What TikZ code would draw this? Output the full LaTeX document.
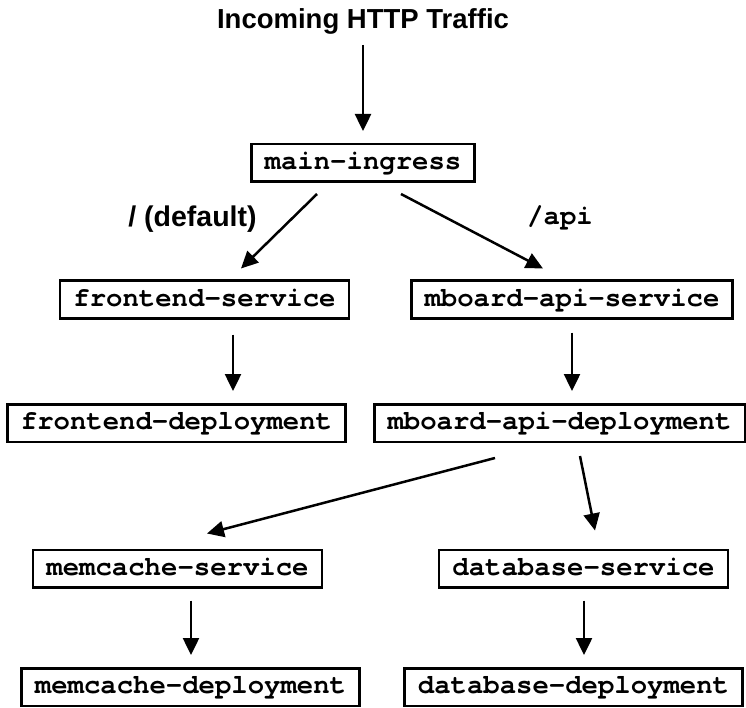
\documentclass[tikz,border=0pt]{standalone}
\usepackage{fontspec}
\setmainfont{Liberation Sans}
\setmonofont{texgyrecursor}[Extension=.otf,UprightFont=*-regular,BoldFont=*-bold]
\usetikzlibrary{arrows.meta,calc}

\tikzset{
  res/.style={draw,line width=2.5pt,inner xsep=13.25pt,inner ysep=6.25pt,
    text height=19pt,text depth=6pt,
    font=\fontsize{27.3}{30}\selectfont\ttfamily\bfseries},
  headline/.style={anchor=base,inner sep=0pt,font=\fontsize{27.5}{30}\selectfont\bfseries},
  route/.style={anchor=base,inner sep=0pt,font=\fontsize{28.5}{30}\selectfont\bfseries},
}

\begin{document}
\begin{tikzpicture}[x=1pt,y=-1pt,>={Triangle[length=17pt,width=16pt]},line width=2.5pt]
            \useasboundingbox (0,0) rectangle (746,708);

            \node[headline] (traffic) at (363,29) {Incoming HTTP Traffic};

            \node[res] (ingress) at (363,163) {main-ingress};

            \node[res] (front) at (204.5,299.5) {frontend-service};
            \node[res] (apisvc) at (572,299.5) {mboard-api-service};

            \node[res] (fdep) at (176.5,423) {frontend-deployment};
            \node[res] (adep) at (559.5,423) {mboard-api-deployment};

            \node[res] (memsvc) at (177.5,568.5) {memcache-service};
            \node[res] (dbsvc) at (583.5,568.5) {database-service};

            \node[res] (memdep) at (190.5,687) {memcache-deployment};
            \node[res] (dbdep) at (573.5,687) {database-deployment};

            \node[route] (default) at (192.5,227) {/ (default)};
            \node[route,font=\fontsize{27.3}{30}\selectfont\ttfamily\bfseries] (api) at (560,225) {/api};

            \draw[->] ($(traffic.base)+(0,16)$) -- ($(ingress.north)+(0,-12)$);
            \draw[->] ($(ingress.south)+(-46,11)$) -- ($(front.north)+(36.5,-11)$);
            \draw[->] ($(ingress.south)+(38,11)$) -- ($(apisvc.north)+(-29,-11)$);
            \draw[->] ($(front.south)+(28.5,15)$) -- ($(fdep.north)+(56.5,-12)$);
            \draw[->] ($(apisvc.south)+(0,13)$) -- ($(adep.north)+(12.5,-12)$);
            \draw[->] ($(adep.south)+(-64.5,15)$) -- ($(memsvc.north)+(29.5,-15)$);
            \draw[->] ($(adep.south)+(20.5,13)$) -- ($(dbsvc.north)+(11.5,-18)$);
            \draw[->] ($(memsvc.south)+(13.5,12)$) -- ($(memdep.north)+(0.5,-12)$);
            \draw[->] ($(dbsvc.south)+(0.5,12)$) -- ($(dbdep.north)+(10.5,-12)$);

        \end{tikzpicture}
\end{document}
